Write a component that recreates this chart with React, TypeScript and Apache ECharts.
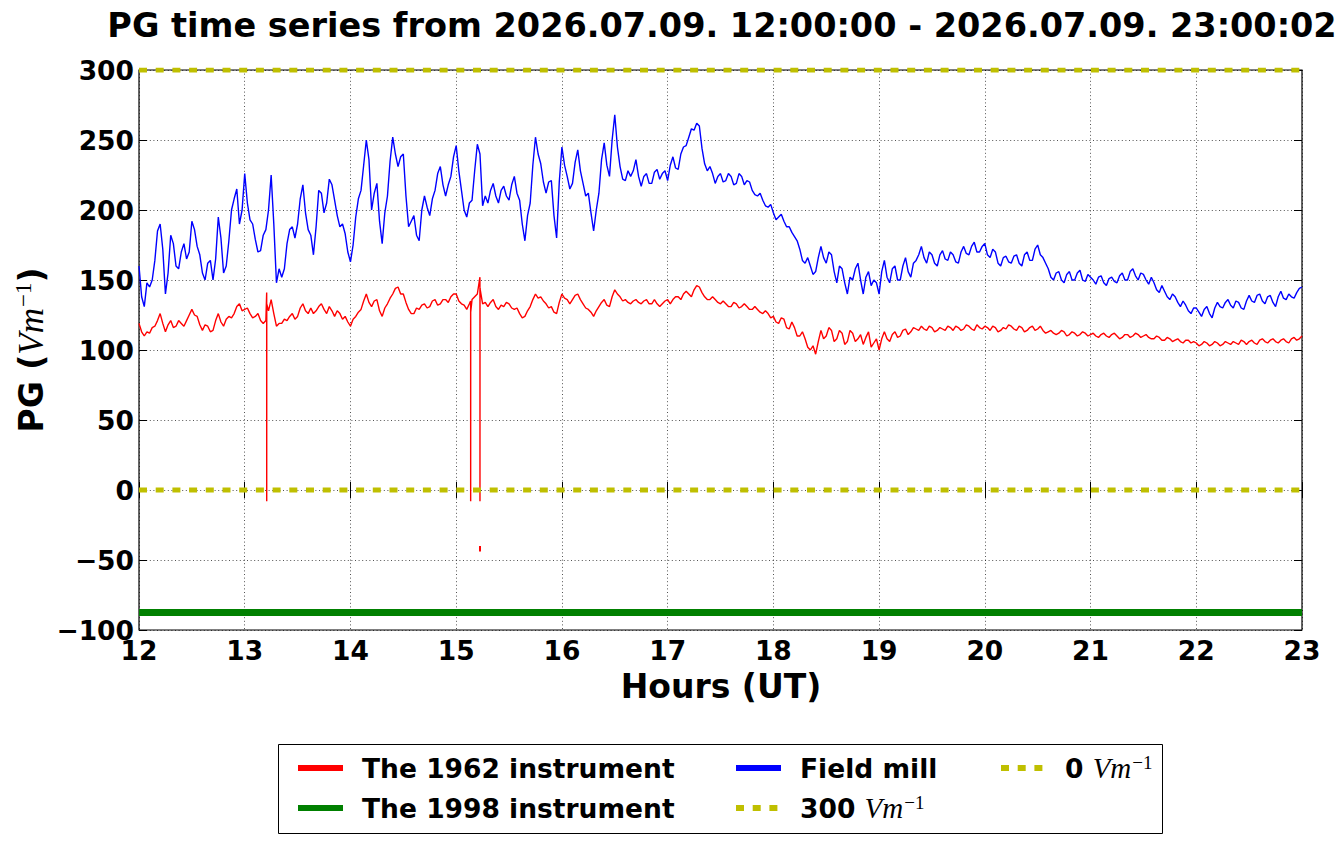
import React, { useEffect, useRef } from "react";
import * as echarts from "echarts";

// ---------- data ----------
const START_HOUR = 12;
const STEP_HOURS = 0.05; // samples every 3 minutes, plus the readings half-way between them
const X_MIN = 12;
const X_MAX = 23;
const Y_MIN = -100;
const Y_MAX = 300;

// Field mill (blue), readings at 12:00, 12:03, ... 23:00 (one row per hour)
const fieldMill = [
  160, 131, 145, 164, 190, 140, 182, 160, 170, 165, 192, 174, 155, 162, 150, 195, 155, 178, 208, 190,
  226, 193, 179, 171, 186, 225, 148, 152, 176, 188, 190, 218, 186, 168, 214, 198, 222, 207, 188, 183,
  163, 195, 214, 250, 200, 219, 176, 210, 252, 231, 240, 188, 196, 178, 210, 196, 214, 231, 210, 224,
  246, 214, 195, 207, 247, 203, 205, 219, 205, 217, 207, 224, 207, 178, 205, 252, 233, 212, 221, 180,
  245, 224, 219, 243, 219, 212, 185, 212, 248, 224, 268, 231, 221, 224, 236, 217, 226, 219, 229, 226,
  221, 238, 229, 245, 252, 257, 260, 233, 231, 219, 226, 221, 224, 219, 224, 221, 214, 210, 207, 202,
  198, 195, 192, 188, 181, 172, 162, 160, 156, 174, 162, 168, 148, 158, 140, 150, 162, 140, 156, 150,
  140, 164, 148, 160, 150, 166, 152, 164, 174, 162, 168, 160, 171, 164, 168, 162, 174, 168, 177, 170,
  176, 166, 170, 160, 167, 162, 168, 160, 170, 164, 175, 166, 158, 150, 156, 148, 156, 150, 157, 149,
  152, 147, 153, 146, 152, 148, 155, 150, 158, 150, 154, 147, 148, 141, 142, 136, 138, 131, 132, 126,
  130, 124, 131, 123, 134, 130, 136, 130, 134, 129, 139, 134, 140, 133, 139, 131, 142, 136, 138, 141,
  145,
];
// Field mill readings half-way between the samples above (12:01:30, 12:04:30, ...)
const fieldMillMid = [
  138, 148, 150, 185, 172, 155, 176, 158, 176, 170, 186, 168, 150, 164, 165, 180, 160, 200, 215, 200,
  205, 190, 170, 182, 200, 190, 158, 158, 186, 180, 208, 198, 182, 188, 212, 205, 218, 196, 190, 170,
  175, 208, 232, 236, 212, 192, 198, 235, 240, 238, 210, 192, 182, 200, 202, 208, 226, 218, 218, 238,
  228, 200, 205, 228, 240, 210, 214, 210, 214, 210, 218, 212, 190, 196, 232, 240, 220, 220, 196, 220,
  232, 215, 234, 228, 210, 198, 200, 236, 232, 250, 245, 222, 228, 228, 224, 224, 219, 227, 222, 228,
  232, 230, 240, 246, 258, 262, 244, 228, 226, 224, 220, 226, 218, 226, 218, 220, 211, 212, 203, 204,
  193, 197, 188, 184, 178, 164, 166, 154, 166, 166, 170, 156, 160, 148, 152, 158, 150, 152, 146, 148,
  156, 152, 158, 150, 160, 156, 162, 168, 166, 170, 162, 168, 165, 170, 163, 170, 169, 174, 170, 174,
  168, 172, 162, 166, 163, 167, 162, 168, 164, 172, 168, 162, 152, 155, 150, 154, 150, 155, 150, 154,
  150, 152, 148, 151, 149, 153, 150, 156, 153, 155, 150, 152, 143, 146, 138, 140, 134, 135, 128, 130,
  127, 129, 126, 130, 131, 134, 132, 135, 130, 135, 135, 139, 135, 138, 134, 138, 137, 140, 137, 144,
];

// The 1962 instrument (red), readings at 12:00, 12:03, ... 23:00
const inst1962 = [
  119, 110, 112, 117, 126, 113, 121, 117, 119, 121, 129, 124, 114, 117, 114, 126, 117, 124, 126, 133,
  129, 126, 124, 121, 121, 136, 117, 119, 121, 126, 124, 133, 126, 126, 131, 129, 131, 124, 126, 124,
  117, 124, 129, 140, 131, 136, 124, 133, 140, 145, 140, 129, 126, 129, 133, 131, 136, 133, 136, 138,
  140, 133, 129, 136, 140, 133, 131, 136, 129, 131, 133, 129, 126, 124, 131, 140, 138, 133, 131, 126,
  140, 136, 136, 140, 133, 129, 124, 131, 136, 131, 143, 138, 136, 133, 136, 133, 136, 133, 133, 133,
  136, 136, 138, 140, 140, 143, 145, 138, 136, 136, 133, 133, 131, 133, 131, 131, 129, 129, 126, 126,
  124, 119, 122, 115, 116, 110, 108, 100, 97, 114, 110, 114, 108, 112, 106, 112, 108, 104, 113, 105,
  100, 113, 106, 113, 110, 115, 113, 115, 117, 114, 116, 114, 115, 117, 114, 116, 115, 117, 114, 116,
  117, 114, 116, 114, 115, 117, 114, 116, 114, 117, 115, 114, 113, 112, 112, 113, 111, 112, 111, 112,
  111, 110, 111, 110, 111, 110, 109, 111, 110, 111, 110, 109, 108, 109, 107, 108, 107, 106, 107, 105,
  105, 104, 105, 104, 105, 104, 105, 106, 104, 106, 106, 105, 107, 106, 107, 106, 107, 106, 108, 107,
  110,
];
// The 1962 instrument, readings half-way between the samples above
const inst1962Mid = [
  113, 113, 116, 121, 119, 118, 116, 121, 117, 125, 125, 118, 118, 113, 121, 120, 122, 123, 131, 128,
  130, 123, 126, 119, 128, 126, 119, 122, 124, 122, 130, 128, 130, 128, 133, 126, 128, 128, 122, 120,
  122, 127, 135, 134, 135, 128, 130, 137, 144, 140, 134, 126, 130, 132, 130, 135, 132, 136, 134, 140,
  135, 132, 133, 138, 135, 134, 134, 131, 132, 134, 130, 130, 123, 128, 136, 137, 135, 130, 127, 134,
  137, 133, 139, 136, 130, 127, 128, 134, 132, 138, 140, 135, 134, 135, 134, 135, 133, 136, 131, 135,
  133, 138, 136, 142, 138, 146, 141, 136, 138, 134, 135, 131, 134, 130, 133, 129, 131, 127, 128, 123,
  120, 123, 116, 120, 110, 113, 102, 103, 106, 108, 116, 106, 114, 104, 114, 106, 111, 109, 102, 108,
  108, 108, 111, 109, 114, 111, 116, 114, 115, 117, 113, 116, 114, 116, 117, 114, 118, 115, 118, 115,
  116, 117, 113, 116, 118, 115, 117, 113, 116, 114, 117, 112, 114, 111, 114, 110, 113, 110, 113, 110,
  112, 109, 112, 109, 112, 108, 111, 109, 112, 109, 111, 108, 110, 107, 109, 106, 108, 105, 107, 106,
  103, 106, 103, 106, 103, 106, 104, 105, 107, 104, 107, 104, 108, 105, 108, 105, 108, 105, 109, 108,
];

// short drop-outs of the 1962 instrument
const spikeTimes = [13.208, 15.137, 15.225];
const spikeTops = [141, 135, 152];
const spikeBottoms = [-8, -8, -8];
const strayTimes = [15.225, 15.2252];
const strayValues = [-40, -44];

// The 1998 instrument (green), flat
const inst1998Times = [12, 23];
const inst1998Values = [-87.5, -87.5];

// reference levels
const levelTimes = [12, 23];
const level300 = [300, 300];
const level0 = [0, 0];

const xTicks = [12, 13, 14, 15, 16, 17, 18, 19, 20, 21, 22, 23];
const yTicks = [-100, -50, 0, 50, 100, 150, 200, 250, 300];

const NAME_1962 = "The 1962 instrument";
const NAME_1998 = "The 1998 instrument";
const NAME_MILL = "Field mill";
const NAME_300 = "300 Vm\u22121";
const NAME_0 = "0 Vm\u22121";

const TITLE = "PG time series from 2026.07.09. 12:00:00 - 2026.07.09. 23:00:02";

// ---------- helpers ----------
const hourAt = (i: number) => Math.round((START_HOUR + i * STEP_HOURS) * 10000) / 10000;

function interleave(main: number[], mid: number[]): number[][] {
  const pts: number[][] = [];
  main.forEach((v, i) => {
    pts.push([hourAt(i), v]);
    if (i < mid.length) pts.push([hourAt(i) + STEP_HOURS / 2, mid[i]]);
  });
  return pts;
}

function buildRed(): number[][] {
  const pts = interleave(inst1962, inst1962Mid);
  spikeTimes.forEach((t, k) => {
    pts.push([t - 0.0004, spikeTops[k]], [t, spikeBottoms[k]], [t + 0.0004, spikeTops[k] - 8]);
  });
  pts.sort((a, b) => a[0] - b[0]);
  return pts;
}

const SANS = "DejaVu Sans";
const MATH = "Liberation Serif";
const TICK_FONT = 26.5;
const LABEL_FONT = 33;

const richStyles = {
  b: { fontFamily: SANS, fontWeight: "bold", fontSize: TICK_FONT, color: "#000", lineHeight: 30 },
  i: { fontFamily: MATH, fontStyle: "italic", fontWeight: "normal", fontSize: 29, color: "#000", lineHeight: 30 },
  s: { fontFamily: MATH, fontWeight: "normal", fontSize: 19, color: "#000", verticalAlign: "top", lineHeight: 20, padding: [0, 0, 10, 1] },
};

function legendFormatter(name: string) {
  if (name === NAME_300) return "{b|300 }{i|Vm}{s|\u22121}";
  if (name === NAME_0) return "{b|0 }{i|Vm}{s|\u22121}";
  return "{b|" + name + "}";
}

function makeLegend(left: number, data: string[]) {
  return {
    orient: "vertical",
    left,
    top: 753,
    padding: 0,
    itemWidth: 45,
    itemHeight: 14,
    itemGap: 10,
    data,
    selectedMode: false,
    itemStyle: { opacity: 0 },
    lineStyle: { width: 6 },
    formatter: legendFormatter,
    textStyle: {
      fontFamily: SANS,
      fontWeight: "bold",
      fontSize: TICK_FONT,
      color: "#000",
      lineHeight: 30,
      padding: [0, 0, 0, 14],
      rich: richStyles,
    },
  };
}

const minusFmt = (v: number) => (v < 0 ? "\u2212" + Math.abs(v) : String(v));

export default function App() {
  const ref = useRef<HTMLDivElement>(null);

  useEffect(() => {
    if (!ref.current) return;
    const chart = echarts.init(ref.current, undefined, { renderer: "svg" });

    const grid = { left: 139, right: 39, top: 70, bottom: 214 };
    const tickStyle = { show: true, inside: true, length: 8, lineStyle: { color: "#000", width: 1 } };
    const splitStyle = { show: true, lineStyle: { color: "#000", width: 0.8, type: [1, 2.6], opacity: 0.85 } };

    const option = {
      animation: false,
      backgroundColor: "#ffffff",
      grid: { ...grid, show: true, borderColor: "#000", borderWidth: 1.2, backgroundColor: "transparent" },
      xAxis: [
        {
          type: "value",
          min: X_MIN,
          max: X_MAX,
          interval: 1,
          position: "bottom",
          axisLine: { show: false },
          axisTick: tickStyle,
          splitLine: splitStyle,
          axisLabel: {
            margin: 7,
            fontFamily: SANS,
            fontWeight: "bold",
            fontSize: TICK_FONT,
            color: "#000",
            formatter: (v: number) => (xTicks.includes(v) ? String(v) : ""),
          },
        },
        {
          type: "value",
          min: X_MIN,
          max: X_MAX,
          interval: 1,
          position: "top",
          axisLine: { show: false },
          axisTick: tickStyle,
          splitLine: { show: false },
          axisLabel: { show: false },
        },
      ],
      yAxis: [
        {
          type: "value",
          min: Y_MIN,
          max: Y_MAX,
          interval: 50,
          position: "left",
          axisLine: { show: false },
          axisTick: tickStyle,
          splitLine: splitStyle,
          axisLabel: {
            margin: 5,
            fontFamily: SANS,
            fontWeight: "bold",
            fontSize: TICK_FONT,
            color: "#000",
            formatter: (v: number) => (yTicks.includes(v) ? minusFmt(v) : ""),
          },
        },
        {
          type: "value",
          min: Y_MIN,
          max: Y_MAX,
          interval: 50,
          position: "right",
          axisLine: { show: false },
          axisTick: tickStyle,
          splitLine: { show: false },
          axisLabel: { show: false },
        },
      ],
      legend: [
        makeLegend(295, [NAME_1962, NAME_1998]),
        makeLegend(733, [NAME_MILL, NAME_300]),
        makeLegend(998, [NAME_0]),
      ],
      series: [
        {
          name: NAME_1962,
          type: "line",
          data: buildRed(),
          symbol: "none",
          lineStyle: { color: "#ff0000", width: 1.4 },
          itemStyle: { color: "#ff0000" },
          z: 3,
        },
        {
          name: NAME_1962,
          type: "line",
          data: strayTimes.map((t, i) => [t, strayValues[i]]),
          symbol: "none",
          lineStyle: { color: "#ff0000", width: 2 },
          itemStyle: { color: "#ff0000" },
          z: 3,
        },
        {
          name: NAME_1998,
          type: "line",
          data: inst1998Times.map((t, i) => [t, inst1998Values[i]]),
          symbol: "none",
          lineStyle: { color: "#008000", width: 7 },
          itemStyle: { color: "#008000" },
          z: 3,
        },
        {
          name: NAME_MILL,
          type: "line",
          data: interleave(fieldMill, fieldMillMid),
          symbol: "none",
          lineStyle: { color: "#0000ff", width: 1.4 },
          itemStyle: { color: "#0000ff" },
          z: 3,
        },
        {
          name: NAME_300,
          type: "line",
          data: levelTimes.map((t, i) => [t, level300[i]]),
          symbol: "none",
          lineStyle: { color: "#bfbf00", width: 5, type: [8, 8.7] },
          itemStyle: { color: "#bfbf00" },
          z: 4,
        },
        {
          name: NAME_0,
          type: "line",
          data: levelTimes.map((t, i) => [t, level0[i]]),
          symbol: "none",
          lineStyle: { color: "#bfbf00", width: 5, type: [8, 8.7] },
          itemStyle: { color: "#bfbf00" },
          z: 4,
        },
      ],
      graphic: [
        {
          type: "text",
          x: 722,
          y: 25,
          style: {
            text: TITLE,
            fontFamily: SANS,
            fontWeight: "bold",
            fontSize: 33.5,
            fill: "#000",
            align: "center",
            verticalAlign: "middle",
            textAlign: "center",
            textVerticalAlign: "middle",
          },
        },
        {
          type: "text",
          x: 721,
          y: 686,
          style: {
            text: "Hours (UT)",
            fontFamily: SANS,
            fontWeight: "bold",
            fontSize: LABEL_FONT,
            fill: "#000",
            align: "center",
            verticalAlign: "middle",
            textAlign: "center",
            textVerticalAlign: "middle",
          },
        },
        {
          type: "text",
          x: 31,
          y: 350,
          rotation: Math.PI / 2,
          style: {
            text: "{b|PG (}{i|Vm}{s|\u22121}{b|)}",
            align: "center",
            verticalAlign: "middle",
            textAlign: "center",
            textVerticalAlign: "middle",
            rich: {
              b: { fontFamily: SANS, fontWeight: "bold", fontSize: LABEL_FONT, fill: "#000", lineHeight: 38 },
              i: { fontFamily: MATH, fontStyle: "italic", fontSize: 35, fill: "#000", lineHeight: 38 },
              s: { fontFamily: MATH, fontSize: 23, fill: "#000", verticalAlign: "top", lineHeight: 24, padding: [0, 0, 12, 1] },
            },
          },
        },
        {
          type: "rect",
          shape: { x: 278.5, y: 744.5, width: 884, height: 89 },
          style: { fill: "none", stroke: "#000", lineWidth: 1 },
          z: 0,
        },
      ],
    };

    chart.setOption(option as any);
    return () => chart.dispose();
  }, []);

  return (
    <div
      ref={ref}
      style={{ position: "fixed", left: 0, top: 0, width: "1341px", height: "844px", background: "#fff" }}
    />
  );
}
